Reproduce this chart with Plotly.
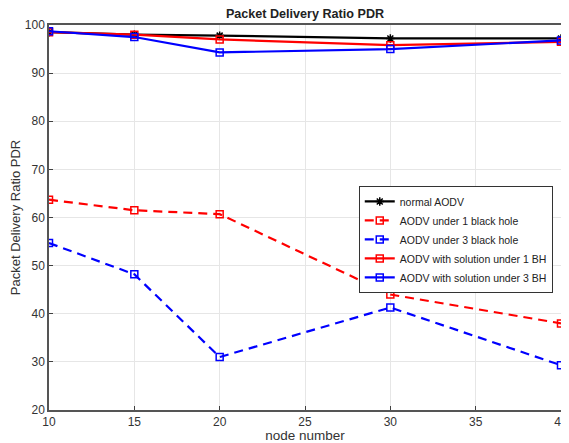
import plotly.graph_objects as go

nodes = [10, 15, 20, 30, 40]
normal_aodv = [98.5, 98.0, 97.8, 97.2, 97.2]
bh1 = [63.7, 61.5, 60.7, 44.0, 38.0]
bh3 = [54.7, 48.2, 31.0, 41.3, 29.3]
sol1 = [98.5, 98.0, 97.0, 95.8, 96.5]
sol3 = [98.7, 97.5, 94.3, 95.0, 96.8]

x_ticks = [10, 15, 20, 25, 30, 35, 40]
y_ticks = [20, 30, 40, 50, 60, 70, 80, 90, 100]

fig = go.Figure()
series = [
    ("normal AODV", normal_aodv, "black", "solid", "asterisk-open"),
    ("AODV under 1 black hole", bh1, "red", "9px,6px", "square-open"),
    ("AODV under 3 black hole", bh3, "blue", "9px,6px", "square-open"),
    ("AODV with solution under 1 BH", sol1, "red", "solid", "square-open"),
    ("AODV with solution under 3 BH", sol3, "blue", "solid", "square-open"),
]
for name, ys, col, dash, sym in series:
    fig.add_trace(go.Scatter(
        x=nodes, y=ys, name=name, mode="lines+markers",
        line=dict(color=col, width=2.2, dash=dash),
        marker=dict(symbol=sym, size=7, color=col, line=dict(color=col, width=1.5)),
    ))

FONT = "Liberation Sans, Arial"
axis_common = dict(
    showgrid=True, gridcolor="#e6e6e6", gridwidth=1,
    showline=True, linecolor="#555555", linewidth=1.5, mirror=True,
    ticks="inside", ticklen=4, tickcolor="#404040",
    tickfont=dict(family=FONT, size=12, color="#333333"),
    ticklabeloverflow="allow",
    zeroline=False,
)

fig.update_layout(
    width=561, height=435,
    margin=dict(l=41, r=1, t=17, b=33),
    paper_bgcolor="white", plot_bgcolor="white",
    title=dict(text="<b>Packet Delivery Ratio PDR</b>", x=0.5, xref="paper", xanchor="center",
               y=1, yref="container", yanchor="top", pad=dict(t=1, b=0),
               font=dict(family=FONT, size=12.6, color="#222222")),
    xaxis=dict(range=[10, 40], tickvals=x_ticks,
               title=dict(text="node number", standoff=0,
                          font=dict(family=FONT, size=13.5, color="#333333")),
               **axis_common),
    yaxis=dict(range=[20, 100], tickvals=y_ticks,
               title=dict(text="Packet Delivery Ratio PDR", standoff=1,
                          font=dict(family=FONT, size=13, color="#333333")),
               **axis_common),
    legend=dict(x=0.605, y=0.582, xanchor="left", yanchor="top",
                bgcolor="white", bordercolor="#333333", borderwidth=1,
                font=dict(family=FONT, size=10.5, color="#222222"),
                tracegroupgap=0, itemwidth=30),
    showlegend=True,
)

fig.write_html("out.html")
